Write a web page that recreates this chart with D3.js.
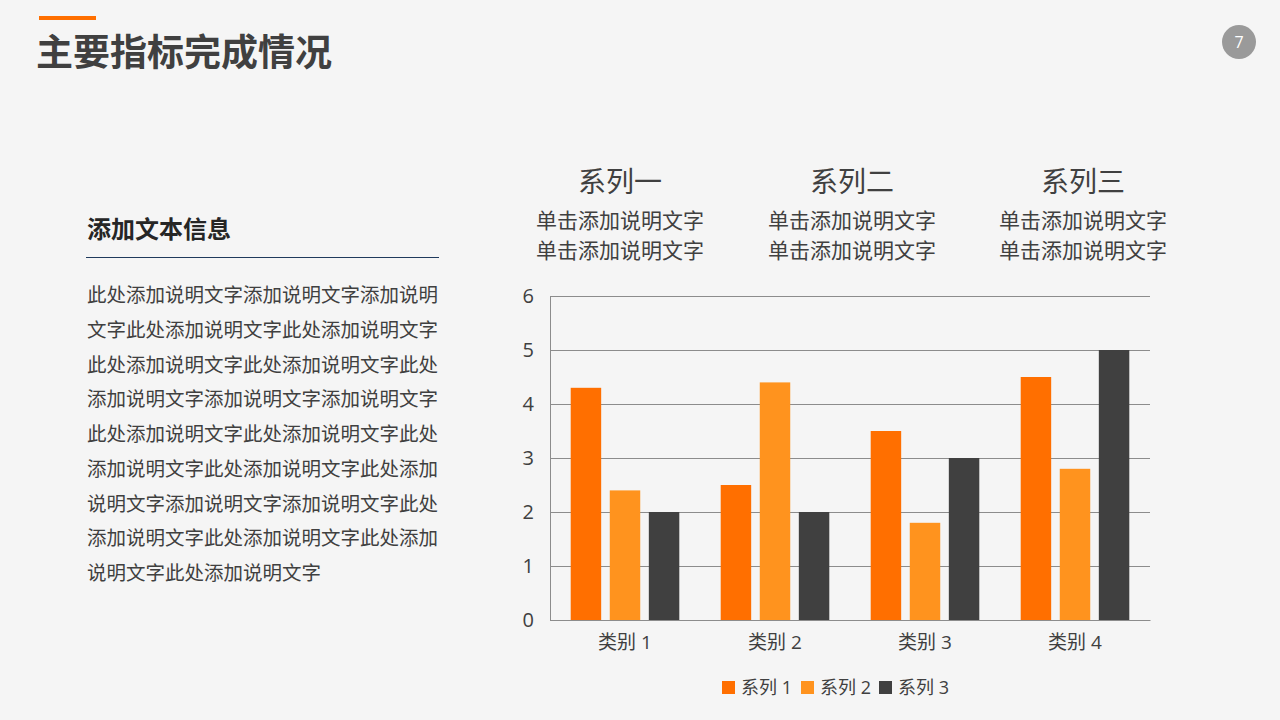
<!DOCTYPE html>
<html><head><meta charset="utf-8">
<script src="https://cdn.jsdelivr.net/npm/d3@7/dist/d3.min.js"></script>
<style>
html,body{margin:0;padding:0;background:#f5f5f5;}
svg{display:block;font-family:"Open Sans","Noto Sans CJK SC",sans-serif;}
</style></head><body>
<svg id="c" width="1280" height="720"></svg>
<script>
const categories = ["类别 1","类别 2","类别 3","类别 4"];
const seriesNames = ["系列 1","系列 2","系列 3"];
const series1 = [4.3, 2.5, 3.5, 4.5];
const series2 = [2.4, 4.4, 1.8, 2.8];
const series3 = [2, 2, 3, 5];
const yTicks = [0,1,2,3,4,5,6];
const colors = ["#FF6F00","#FF931E","#404040"];
const headers = ["系列一","系列二","系列三"];
const headerSub = "单击添加说明文字";
const bodyLines = [
 "此处添加说明文字添加说明文字添加说明",
 "文字此处添加说明文字此处添加说明文字",
 "此处添加说明文字此处添加说明文字此处",
 "添加说明文字添加说明文字添加说明文字",
 "此处添加说明文字此处添加说明文字此处",
 "添加说明文字此处添加说明文字此处添加",
 "说明文字添加说明文字添加说明文字此处",
 "添加说明文字此处添加说明文字此处添加",
 "说明文字此处添加说明文字"
];

const svg = d3.select("#c");
const cjk = '"Noto Sans CJK SC",sans-serif';

// Title
svg.append("rect").attr("x",39).attr("y",16).attr("width",57).attr("height",4).attr("fill","#FF6F00");
svg.append("text").attr("x",36).attr("y",66).text("主要指标完成情况")
  .attr("font-family",cjk).attr("font-weight",700).attr("font-size",37).attr("fill","#404040");

// page number
svg.append("circle").attr("cx",1239).attr("cy",42).attr("r",17).attr("fill","#9a9a9a");
svg.append("text").attr("x",1239).attr("y",48).attr("text-anchor","middle").attr("font-size",16).attr("fill","#fff").text("7");

// Left text block
svg.append("text").attr("x",87).attr("y",238).text("添加文本信息")
  .attr("font-family",cjk).attr("font-weight",700).attr("font-size",24).attr("fill","#262626");
svg.append("line").attr("x1",86).attr("x2",439).attr("y1",257.5).attr("y2",257.5).attr("stroke","#1F3A5C").attr("stroke-width",1.2);
svg.append("g").selectAll("text").data(bodyLines).join("text")
  .attr("x",87).attr("y",(d,i)=>302+i*34.75).text(d=>d)
  .attr("font-family",cjk).attr("font-size",19.5).attr("fill","#404040");

// Chart
const x0 = d3.scaleBand().domain(categories).range([550,1150]);
const x1 = d3.scaleBand().domain(seriesNames).range([0,x0.bandwidth()]).paddingInner(0.22).paddingOuter(0.53);
const y = d3.scaleLinear().domain([0,6]).range([620,296]);

// headers above chart
const hx = [620,852,1083];
headers.forEach((h,i)=>{
  svg.append("text").attr("x",hx[i]).attr("y",192).attr("text-anchor","middle").text(h)
    .attr("font-family",cjk).attr("font-size",28).attr("fill","#404040");
  [228,258].forEach(yy=>svg.append("text").attr("x",hx[i]).attr("y",yy).attr("text-anchor","middle").text(headerSub)
    .attr("font-family",cjk).attr("font-size",21).attr("fill","#404040"));
});

// gridlines
svg.append("g").attr("transform","translate(550,0)")
  .call(d3.axisLeft(y).tickValues(yTicks).tickSize(-600).tickFormat(""))
  .call(g=>{g.select(".domain").remove(); g.selectAll("line").attr("stroke","#8c8c8c").attr("stroke-width",1);});

// bars
const data = categories.map((c,i)=>({c, v:[series1[i],series2[i],series3[i]]}));
const grp = svg.append("g").selectAll("g").data(data).join("g")
  .attr("transform",d=>`translate(${x0(d.c)},0)`);
grp.selectAll("rect").data(d=>d.v.map((v,j)=>({s:seriesNames[j],v,j}))).join("rect")
  .attr("x",d=>x1(d.s)).attr("width",x1.bandwidth())
  .attr("y",d=>y(d.v)).attr("height",d=>y(0)-y(d.v)).attr("fill",d=>colors[d.j]);

// y axis
const ya = svg.append("g").attr("transform","translate(550,0)")
  .call(d3.axisLeft(y).tickValues(yTicks).tickSize(0).tickPadding(16).tickFormat(d3.format("d")));
ya.select(".domain").attr("stroke","#8c8c8c");
ya.selectAll("text").attr("font-size",20).attr("fill","#404040").attr("font-family","'Open Sans',sans-serif");

// x axis
const xa = svg.append("g").attr("transform","translate(0,620)")
  .call(d3.axisBottom(x0).tickSize(0).tickPadding(16));
xa.select(".domain").attr("stroke","#8c8c8c");
xa.selectAll("text").attr("font-size",19).attr("fill","#404040").attr("font-family",'"Open Sans","Noto Sans CJK SC",sans-serif');

// legend
const lx = [722,801,879];
const lg = svg.append("g").selectAll("g").data(seriesNames).join("g")
  .attr("transform",(d,i)=>`translate(${lx[i]},681)`);
lg.append("rect").attr("width",13).attr("height",13).attr("fill",(d,i)=>colors[i]);
lg.append("text").attr("x",19).attr("y",13).text(d=>d).attr("font-size",18).attr("fill","#404040")
  .attr("font-family",'"Open Sans","Noto Sans CJK SC",sans-serif');
</script>
</body></html>
